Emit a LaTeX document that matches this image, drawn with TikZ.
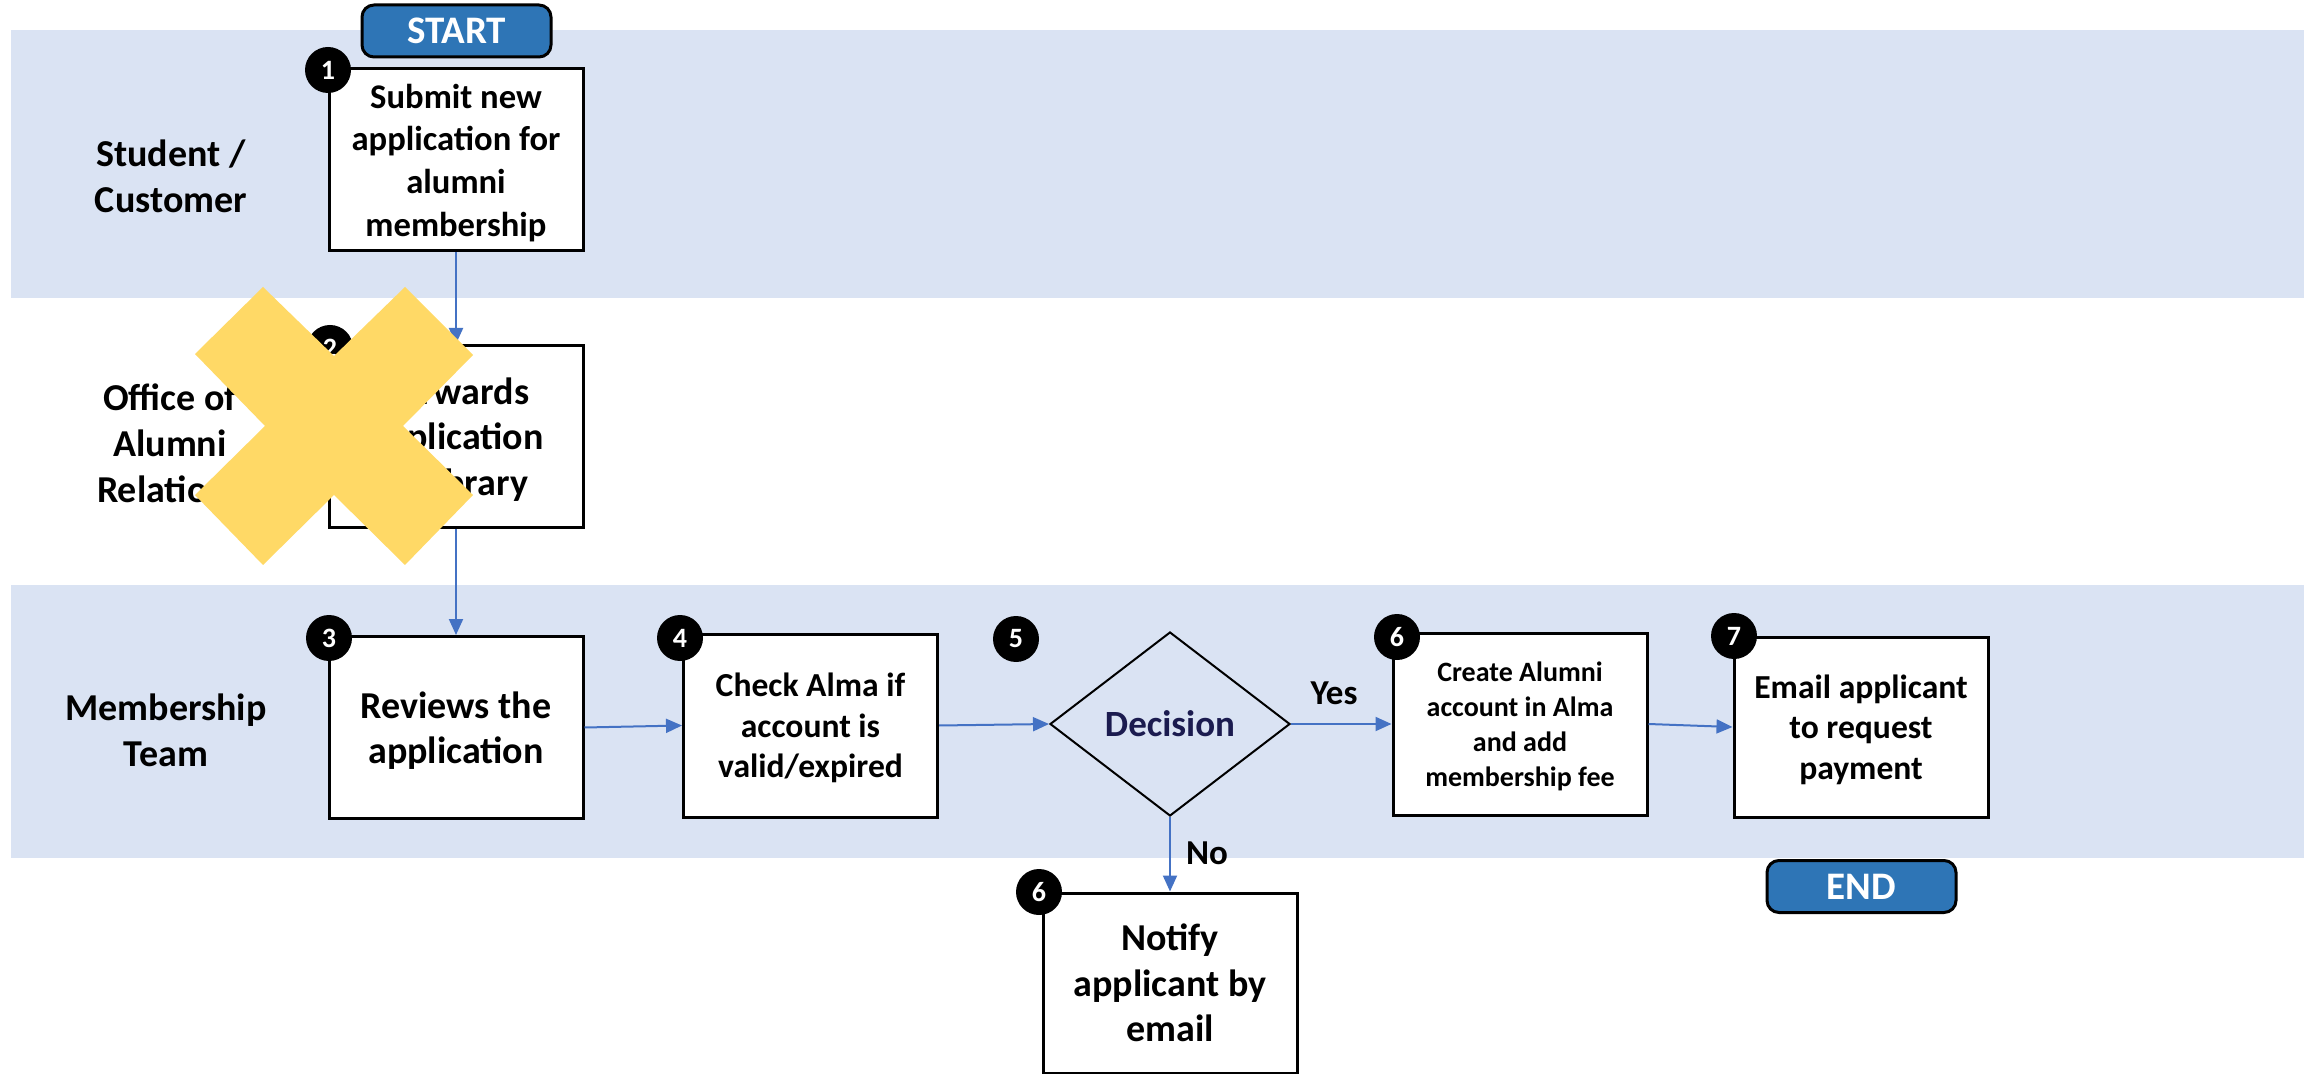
\documentclass[tikz,border=0pt]{standalone}
\usepackage{fontspec}
\setmainfont{Carlito}
\usetikzlibrary{shapes.geometric,arrows.meta}
\definecolor{band}{HTML}{DAE3F3}
\definecolor{btn}{HTML}{2E75B6}
\definecolor{arr}{HTML}{4472C4}
\definecolor{gold}{HTML}{FFD966}
\definecolor{navy}{HTML}{1B1B4F}
\begin{document}
\begin{tikzpicture}[x=0.5pt,y=-0.5pt,
  procbox/.style={draw=black, line width=1.5pt, fill=white, rectangle, inner sep=0pt, align=center, text depth=0pt, minimum width=127pt, minimum height=91pt},
  fA/.style={font=\bfseries\fontsize{17.3}{21.3}\selectfont},
  fD/.style={font=\bfseries\fontsize{16.8}{20.3}\selectfont},
  fB/.style={font=\bfseries\fontsize{19}{22.8}\selectfont},
  fC/.style={font=\bfseries\fontsize{14}{17.5}\selectfont},
  badge/.style={circle, fill=black, text=white, minimum size=23pt, inner sep=0pt, font=\bfseries\fontsize{14}{14}\selectfont},
  terminal/.style={draw=black, line width=1.5pt, fill=btn, rounded corners=6pt, text=white, minimum width=94.5pt, minimum height=26pt, inner sep=0pt, font=\bfseries\fontsize{19.5}{19.5}\selectfont},
  lane/.style={align=center, font=\bfseries\fontsize{19}{23}\selectfont},
  flow/.style={draw=arr, line width=1pt, -{Triangle[length=8pt,width=7pt]}},
  lbl/.style={font=\bfseries\fontsize{17.5}{17.5}\selectfont, inner sep=0pt},
]
\useasboundingbox (0,0) rectangle (2312,1074);
\fill[white] (0,0) rectangle (2312,1074);
% swimlane bands
\fill[band] (11,30) rectangle (2304,298);
\fill[band] (11,585) rectangle (2304,858);
% lane labels
\node[lane] (lane1) at (171,176) {Student /\\Customer};
\node[lane] (lane2) at (170,443) {Office of\\Alumni\\Relations};
\node[lane] (lane3) at (166,730) {Membership\\Team};
% terminals
\node[terminal] (start) at (456.5,31) {START};
\node[terminal] (end) at (1861.5,886.5) {END};
% process boxes
\node[procbox, fA] (b1) at (456,160) {Submit new\\application for\\alumni\\membership};
\node[procbox, fB] (b2) at (456,436.5) {Forwards\\application\\to library};
\node[procbox, fB] (b3) at (456,727.5) {Reviews the\\application};
\node[procbox, fD, minimum height=91.5pt] (b4) at (810.5,725.5) {Check Alma if\\account is\\valid/expired};
\node[diamond, draw=black, line width=1pt, inner sep=0pt, minimum width=120pt, minimum height=92pt, text=navy, font=\bfseries\fontsize{18.5}{18.5}\selectfont] (dec) at (1170,724) {Decision};
\node[procbox, fC] (b6) at (1520,724) {Create Alumni\\account in Alma\\and add\\membership fee};
\node[procbox, fD, minimum height=90pt] (b7) at (1861,727) {Email applicant\\to request\\payment};
\node[procbox, fB, minimum height=90pt] (b6n) at (1170,983) {Notify\\applicant by\\email};
% badges
\node[badge] (n1) at (328,70) {1};
\node[badge] (n2) at (330,348) {2};
\node[badge] (n3) at (329,638) {3};
\node[badge] (n4) at (680,638) {4};
\node[badge] (n5) at (1016,639) {5};
\node[badge] (n6) at (1397,637) {6};
\node[badge] (n7) at (1734,636) {7};
\node[badge] (n6n) at (1039,892) {6};
% connectors
\draw[flow] (b1.south) -- (b2.north);
\draw[flow] (b2.south) -- (b3.north);
\draw[flow] (b3.east) -- (b4.west);
\draw[flow] (b4.east) -- (dec.west);
\draw[flow] (dec.east) -- (b6.west);
\draw[flow] (b6.east) -- (b7.west);
\draw[flow] (dec.south) -- (b6n.north);
% branch labels
\node[lbl] (yes) at (1334,693) {Yes};
\node[lbl] (no) at (1207,853) {No};
% yellow cross
\fill[gold] (263,287) -- (334,356) -- (405,287) -- (473,355) -- (403,426) -- (473,495)
  -- (405,565) -- (334,495) -- (263,565) -- (195,495) -- (265,426) -- (195,354) -- cycle;
\end{tikzpicture}
\end{document}
